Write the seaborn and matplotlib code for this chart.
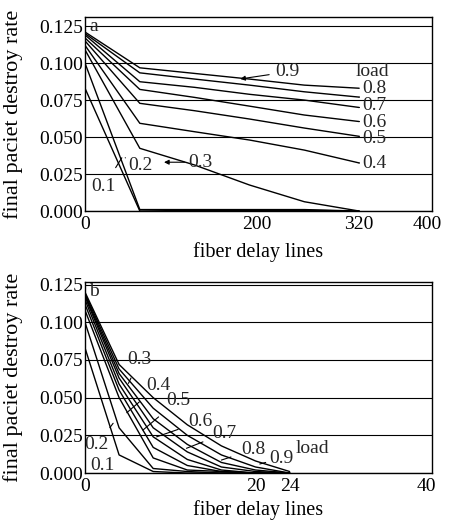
import numpy as np
import pandas as pd
import matplotlib
matplotlib.use("Agg")
import matplotlib.pyplot as plt
import seaborn as sns

# ---- data ----
loads = [0.1, 0.2, 0.3, 0.4, 0.5, 0.6, 0.7, 0.8, 0.9]

# panel a: many fiber delay lines
fdl_a = [0, 64, 128, 192, 256, 320]
rate_a = {
    0.1: [0.083, 0.000, 0.0005, 0.0005, 0.0005, 0.000],
    0.2: [0.100, 0.001, 0.001, 0.001, 0.001, 0.000],
    0.3: [0.109, 0.0424, 0.0311, 0.0176, 0.0063, 0.000],
    0.4: [0.112, 0.0593, 0.0536, 0.0480, 0.0412, 0.0325],
    0.5: [0.115, 0.0728, 0.0678, 0.0622, 0.0561, 0.0505],
    0.6: [0.117, 0.0822, 0.0768, 0.0709, 0.0649, 0.0605],
    0.7: [0.119, 0.0874, 0.0836, 0.0789, 0.0750, 0.0700],
    0.8: [0.120, 0.0934, 0.0892, 0.0851, 0.0806, 0.0770],
    0.9: [0.121, 0.0968, 0.0930, 0.0892, 0.0851, 0.0830],
}

# panel b: few fiber delay lines
fdl_b = [0, 4, 8, 12, 16, 20, 24]
rate_b = {
    0.1: [0.083, 0.012, 0.001, 0.000, 0.000, 0.000, 0.000],
    0.2: [0.100, 0.030, 0.003, 0.001, 0.000, 0.000, 0.000],
    0.3: [0.108, 0.050, 0.010, 0.002, 0.001, 0.000, 0.000],
    0.4: [0.112, 0.055, 0.017, 0.005, 0.001, 0.000, 0.000],
    0.5: [0.115, 0.059, 0.024, 0.009, 0.002, 0.000, 0.000],
    0.6: [0.117, 0.063, 0.030, 0.014, 0.004, 0.001, 0.000],
    0.7: [0.118, 0.066, 0.036, 0.019, 0.007, 0.002, 0.000],
    0.8: [0.119, 0.069, 0.043, 0.025, 0.012, 0.004, 0.000],
    0.9: [0.120, 0.072, 0.050, 0.032, 0.018, 0.008, 0.001],
}

yticks = [0.000, 0.025, 0.050, 0.075, 0.100, 0.125]
xticks_a = [0, 200, 320, 400]
xticks_b = [0, 20, 24, 40]


def to_long(fdl, rates):
    rows = []
    for ld in loads:
        for x, v in zip(fdl, rates[ld]):
            rows.append({"fdl": x, "rate": v, "load": ld})
    return pd.DataFrame(rows)


df_a = to_long(fdl_a, rate_a)
df_b = to_long(fdl_b, rate_b)

sns.set_theme(style="white")
plt.rcParams["font.family"] = ["Liberation Serif", "DejaVu Serif"]

fig = plt.figure(figsize=(4.54, 5.25), dpi=100)
ax_a = fig.add_axes([0.1872, 0.598, 0.7643, 0.3695])
ax_b = fig.add_axes([0.1872, 0.099, 0.7643, 0.3638])

black = {ld: "black" for ld in loads}
for ax, df in [(ax_a, df_a), (ax_b, df_b)]:
    sns.lineplot(data=df, x="fdl", y="rate", hue="load", palette=black,
                 legend=False, linewidth=1.0, ax=ax, sort=False,
                 estimator=None, zorder=3)

for ax, xt, xmax in [(ax_a, xticks_a, 405), (ax_b, xticks_b, 40.7)]:
    ax.set_xlim(0, xmax)
    ax.set_xticks(xt)
    ax.set_xticklabels([str(t) for t in xt])
    ax.set_yticks(yticks)
    ax.set_yticklabels([f"{t:.3f}" for t in yticks])
    ax.yaxis.grid(True, color="black", linewidth=0.8)
    ax.xaxis.grid(False)
    ax.tick_params(length=0, labelsize=14, colors="black")
    ax.tick_params(axis="x", pad=3.5)
    ax.tick_params(axis="y", pad=1.5)
    for s in ax.spines.values():
        s.set_color("black")
        s.set_linewidth(1.0)
    ax.set_xlabel("fiber delay lines", fontsize=14.5, color="black")
    ax.set_ylabel("final paciet destroy rate", fontsize=16, color="black")
    ax.yaxis.set_label_coords(-0.178, 0.5)

ax_a.set_ylim(0, 0.1311)
ax_b.set_ylim(0, 0.1267)
ax_a.xaxis.set_label_coords(0.5, -0.16)
ax_b.xaxis.set_label_coords(0.5, -0.14)

fs = 14
ax_a.text(0.012, 0.995, "a", transform=ax_a.transAxes, ha="left", va="top", fontsize=fs)
ax_b.text(0.012, 0.995, "b", transform=ax_b.transAxes, ha="left", va="top", fontsize=fs)

# panel a labels
ax_a.annotate("0.9", xy=(178, 0.089), xytext=(222, 0.094), fontsize=fs, va="center",
              arrowprops=dict(arrowstyle="-|>", color="black", lw=0.8, mutation_scale=7))
ax_a.text(335, 0.094, "load", fontsize=fs, ha="center", va="center")
for ld, yl in [(0.8, 0.083), (0.7, 0.071), (0.6, 0.0597), (0.5, 0.049), (0.4, 0.0322)]:
    ax_a.annotate(f"{ld}", xy=(320, rate_a[ld][-1]), xytext=(324, yl), fontsize=fs,
                  va="center", arrowprops=dict(arrowstyle="-", color="black", lw=0.8,
                                               shrinkA=0, shrinkB=0))
ax_a.annotate("0.3", xy=(89, 0.033), xytext=(120, 0.033), fontsize=fs, va="center",
              arrowprops=dict(arrowstyle="-|>", color="black", lw=0.8, mutation_scale=7,
                              shrinkA=0))
ax_a.annotate("0.2", xy=(47, 0.036), xytext=(51, 0.031), fontsize=fs, va="center",
              arrowprops=dict(arrowstyle="-", color="black", lw=0.8, shrinkA=0, shrinkB=0))
ax_a.annotate("0.1", xy=(43, 0.036), xytext=(22, 0.0166), fontsize=fs, va="center",
              ha="center", arrowprops=dict(arrowstyle="-", color="black", lw=0.8,
                                           shrinkA=6, shrinkB=0))

# panel b labels
b_labels = [
    (0.3, (6.4, 0.075), (5.1, 0.0595)),
    (0.4, (8.6, 0.058), (4.9, 0.040)),
    (0.5, (10.9, 0.048), (6.8, 0.0285)),
    (0.6, (13.5, 0.034), (8.4, 0.024)),
    (0.7, (16.4, 0.0263), (11.9, 0.0164)),
    (0.8, (19.7, 0.0153), (16.0, 0.0086)),
    (0.9, (23.0, 0.0097), (20.5, 0.0060)),
]
for ld, txt, tip in b_labels:
    ax_b.annotate(f"{ld}", xy=tip, xytext=txt, fontsize=fs, ha="center", va="center",
                  arrowprops=dict(arrowstyle="-", color="black", lw=0.8, shrinkA=5,
                                  shrinkB=0))
ax_b.text(26.7, 0.0164, "load", fontsize=fs, ha="center", va="center")
ax_b.annotate("0.2", xy=(3.3, 0.033), xytext=(1.4, 0.0186), fontsize=fs, ha="center",
              va="center", arrowprops=dict(arrowstyle="-", color="black", lw=0.8,
                                           shrinkA=5, shrinkB=0))
ax_b.text(2.1, 0.0053, "0.1", fontsize=fs, ha="center", va="center")

plt.savefig("out.png", dpi=100)
plt.close()
